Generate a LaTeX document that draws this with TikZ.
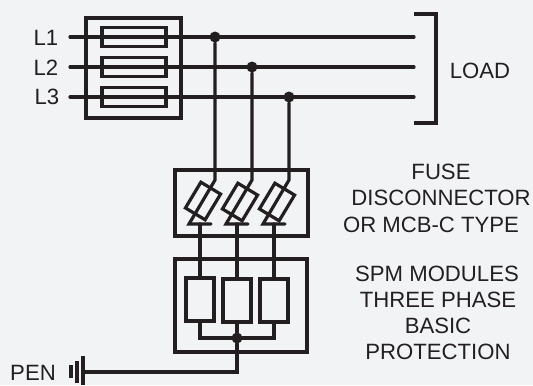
\documentclass[tikz,border=0pt]{standalone}
\usepackage{fontspec}
\setmainfont{Liberation Sans}
\usepackage{xcolor}
\usetikzlibrary{positioning}
\definecolor{paper}{HTML}{F1F3F5}
\definecolor{ink}{HTML}{231F20}
\tikzset{
  wire/.style={line width=0.064cm, draw=ink, line cap=round, line join=miter},
  housing/.style={wire, rectangle, inner sep=0pt, minimum width=#1},
  fusebox/.style={wire, rectangle, inner sep=0pt, minimum width=1.28cm, minimum height=0.38cm},
  tiltfuse/.style={wire, rectangle, inner sep=0pt, minimum width=0.46cm, minimum height=0.6cm, rotate=-31},
  spmbox/.style={wire, rectangle, inner sep=0pt, minimum width=0.56cm, minimum height=0.86cm},
  dot/.style={circle, fill=ink, inner sep=0pt, minimum size=0.22cm},
  lbl/.style={text=ink, font=\fontsize{12.6pt}{14pt}\selectfont, inner sep=0pt},
}

\begin{document}
\begin{tikzpicture}[x=0.02cm, y=-0.02cm]
  \useasboundingbox[fill=paper] (0,0) rectangle (533,385);

  % Fuses on the supply side
  \node[housing=1.9cm, minimum height=2cm] (mainbox) at (133.5,68) {};
  \node[fusebox] (fuseA) at (134,37) {};
  \node[fusebox] (fuseB) at (134,67) {};
  \node[fusebox] (fuseC) at (134,97) {};

  % Phase lines
  \node[lbl] (lineA) at (46,38) {L1};
  \node[lbl] (lineB) at (46,68) {L2};
  \node[lbl] (lineC) at (47,97) {L3};
  \coordinate (startA) at (70,37);
  \coordinate (startB) at (70,67);
  \coordinate (startC) at (70,97);
  \coordinate (endA) at (414,37);
  \coordinate (endB) at (414,67);
  \coordinate (endC) at (414,97);
  \draw[wire] (startA) -- (endA);
  \draw[wire] (startB) -- (endB);
  \draw[wire] (startC) -- (endC);

  % Load bracket
  \coordinate (loadTop) at (414,14);
  \coordinate (loadBot) at (414,123);
  \draw[wire, line cap=butt] (loadTop) -- (436,14) -- (436,123) -- (loadBot);
  \node[lbl] (load) at (480,71) {LOAD};

  % Junctions
  \node[dot] (tapA) at (215,37) {};
  \node[dot] (tapB) at (252,67) {};
  \node[dot] (tapC) at (289,97) {};

  % Disconnector
  \node[housing=2.66cm, minimum height=1.32cm] (discbox) at (241.5,203) {};
  \node[tiltfuse] (discA) at (203,201) {};
  \node[tiltfuse] (discB) at (240,202) {};
  \node[tiltfuse] (discC) at (277,202) {};
  \coordinate (bendA) at (215,180);
  \coordinate (bendB) at (252,180);
  \coordinate (bendC) at (289,180);
  \coordinate (tipA) at (189,224);
  \coordinate (tipB) at (226,224);
  \coordinate (tipC) at (263,224);
  \draw[wire] (tapA) -- (bendA) -- (tipA) -- (211,224);
  \draw[wire] (tapB) -- (bendB) -- (tipB) -- (248,224);
  \draw[wire] (tapC) -- (bendC) -- (tipC) -- (285,224);

  % SPM modules
  \node[housing=2.64cm, minimum height=1.86cm] (spmbox) at (241,305.5) {};
  \node[spmbox] (modA) at (200,299.5) {};
  \node[spmbox] (modB) at (237,300.5) {};
  \node[spmbox] (modC) at (274,300.5) {};
  \coordinate (barA) at (200,224);
  \coordinate (barB) at (237,224);
  \coordinate (barC) at (274,224);
  \draw[wire] (barA) -- (modA.north);
  \draw[wire] (barB) -- (modB.north);
  \draw[wire] (barC) -- (modC.north);

  % Common bus and earth
  \node[dot] (star) at (237,338) {};
  \coordinate (busA) at (200,338);
  \coordinate (busC) at (274,338);
  \draw[wire] (modA.south) -- (busA) -- (busC) -- (modC.south);
  \draw[wire] (modB.south) -- (star);
  \coordinate (earthTop) at (83,356);
  \coordinate (earthBot) at (83,385);
  \coordinate (earthMid) at (83,372);
  \draw[wire] (star) -- (237,372) -- (earthMid);
  \draw[wire, line cap=butt] (earthTop) -- (earthBot);
  \draw[wire, line cap=butt] (77,361) -- (77,383);
  \draw[wire, line width=0.08cm, line cap=butt] (71,365) -- (71,378);
  \node[lbl] (pen) at (33,373) {PEN};

  % Captions
  \node[lbl] (capA) at (441,172) {FUSE};
  \node[lbl] (capB) at (441,198) {DISCONNECTOR};
  \node[lbl] (capC) at (431,225) {OR MCB-C TYPE};
  \node[lbl] (capD) at (437,274) {SPM MODULES};
  \node[lbl] (capE) at (438,300) {THREE PHASE};
  \node[lbl] (capF) at (438,326) {BASIC};
  \node[lbl] (capG) at (438,352) {PROTECTION};
\end{tikzpicture}
\end{document}
